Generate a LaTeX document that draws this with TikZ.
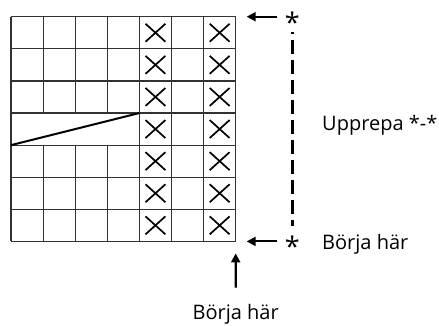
\documentclass[tikz,border=0pt]{standalone}
\usepackage{fontspec}
\setmainfont{Open Sans}
\usetikzlibrary{arrows.meta,positioning}
\definecolor{gridgray}{RGB}{50,50,50}

\begin{document}
\begin{tikzpicture}[x=1pt,y=-1pt,
    gridline/.style={draw=gridgray,line width=1.2pt},
    crossline/.style={draw=black,line width=1.7pt},
    arr/.style={line width=2.1pt,-{Triangle[length=9pt,width=9pt]}},
    starmark/.style={font=\fontsize{27}{27}\selectfont,inner sep=0pt,anchor=north},
    lbl/.style={font=\fontsize{20}{24}\selectfont,inner sep=0pt}]
  \useasboundingbox[fill=white] (0,0) rectangle (439,325);
  % chart
  \begin{scope}[shift={(11,16.7)},x=32.1pt,y=-32.1pt]
    \foreach \r in {0,...,7}
      \draw[gridline] (0,\r) -- (7,\r);
    \foreach \c in {0,4,5,6,7}
      \draw[gridline] (\c,0) -- (\c,7);
    \foreach \c in {1,2,3} {
      \draw[gridline] (\c,0) -- (\c,3);
      \draw[gridline] (\c,4) -- (\c,7);
    }
    \draw[line width=2pt] (0,4) -- (4,3);
    \foreach \c in {4,6}
      \foreach \r in {0,...,6} {
        \draw[crossline] (\c+0.5,\r+0.5) +(-0.31,-0.28) -- +(0.31,0.28);
        \draw[crossline] (\c+0.5,\r+0.5) +(-0.31,0.28) -- +(0.31,-0.28);
      }
    \coordinate (NE) at (7,0);
    \coordinate (SE) at (7,7);
  \end{scope}
  % repeat marks
  \node[starmark] (topstar) at (292.3,12) {*};
  \node[starmark] (botstar) at (292.3,236) {*};
  \draw[arr,shorten <=8pt,shorten >=11pt] (topstar.west |- NE) -- (NE);
  \draw[arr,shorten <=8pt,shorten >=11pt] (botstar.west |- SE) -- (SE);
  \draw[line width=2.4pt,dash pattern=on 14pt off 6pt,dash phase=12pt] (292.3,31.7) -- (292.3,226);
  \node[lbl,anchor=base west] (repeat) at (322,130) {Upprepa *-*};
  \node[lbl,anchor=base west] (startrow) at (322,249) {Börja här};
  \node[lbl,anchor=base] (startcol) at (235.7,319) {Börja här};
  \draw[arr,shorten <=16pt,shorten >=12pt] (startcol) -- (SE);
\end{tikzpicture}
\end{document}
